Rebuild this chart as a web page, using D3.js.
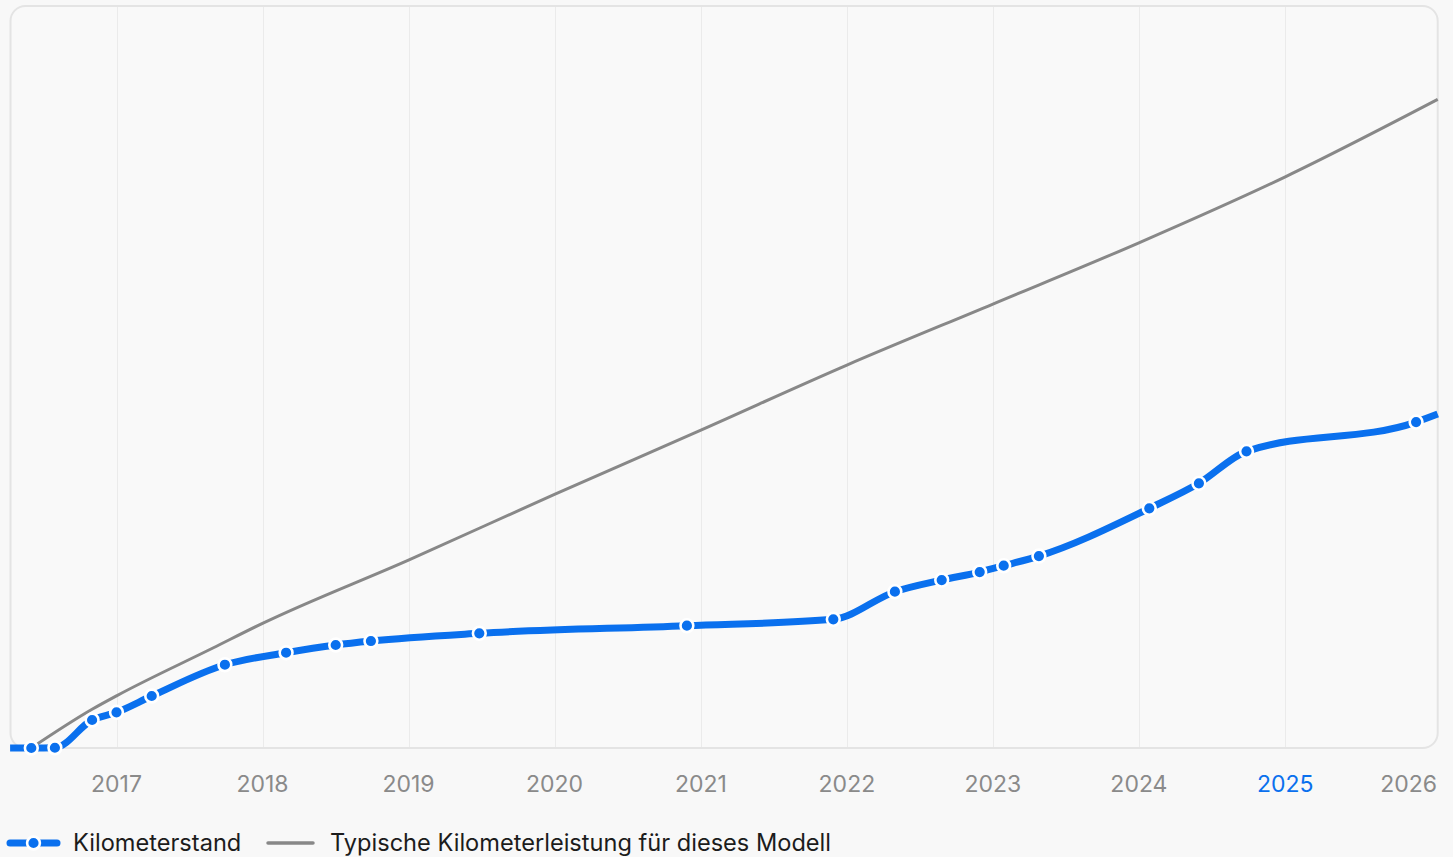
<!DOCTYPE html>
<html>
<head>
<meta charset="utf-8">
<script src="https://cdn.jsdelivr.net/npm/d3@7"></script>
<style>
  html, body { margin: 0; padding: 0; background: #f8f8f8; }
  svg { display: block; font-family: Inter, "Noto Sans", sans-serif; }
</style>
</head>
<body>
<svg id="mileageChart"></svg>
<script>
// Odometer readings (date, km)
const readingDates = ["2016-06-02", "2016-07-31", "2016-11-01", "2017-01-01", "2017-03-30",
    "2017-09-29", "2018-03-01", "2018-07-03", "2018-09-29", "2019-06-27", "2020-11-27",
    "2021-11-28", "2022-05-01", "2022-08-26", "2022-11-29", "2023-01-28", "2023-04-26",
    "2024-01-27", "2024-05-30", "2024-09-26", "2025-11-24"];
const readingKm = [0, 60, 6600, 8420, 12260, 19640, 22470, 24290, 25230, 27050, 28840,
    30350, 36860, 39610, 41500, 42990, 45270, 56520, 62420, 69960, 76870];

// Line continues to both edges of the time range
const rangeDates = ["2016-04-10", "2026-01-17"];
const rangeKm = [0, 78760];

// Typical mileage for this model
const typicalDates = ["2016-06-02", "2016-11-01", "2017-01-01", "2017-08-30", "2018-01-01",
    "2019-01-01", "2020-01-01", "2021-01-01", "2022-01-01", "2023-01-01", "2024-01-01",
    "2025-01-01", "2026-01-17"];
const typicalKm = [0, 9130, 12300, 23580, 29400, 44330, 59820, 74980, 90310, 104700,
    119150, 134710, 152960];

const yearTicks = [2017, 2018, 2019, 2020, 2021, 2022, 2023, 2024, 2025, 2026];
const highlightYear = 2025;

const seriesNames = ["Kilometerstand", "Typische Kilometerleistung für dieses Modell"];

const width = 1453;
const height = 857;
const box = { left: 10, right: 1437.7, top: 6, bottom: 748 };
const blue = '#0a70ee';
const grey = '#888888';

const svg = d3.select('svg#mileageChart')
    .attr('width', width)
    .attr('height', height);

svg.selectAll('*').remove();

const parse = d3.utcParse('%Y-%m-%d');

const x = d3.scaleUtc()
    .domain(rangeDates.map(parse))
    .range([10.1, box.right]);

const y = d3.scaleLinear()
    .domain([0, 175000])
    .range([box.bottom, box.top]);

// Plot frame
svg.append('rect')
    .attr('x', box.left + 0.5)
    .attr('y', box.top)
    .attr('width', box.right - box.left - 0.5)
    .attr('height', box.bottom - box.top)
    .attr('rx', 15)
    .style('fill', '#f9f9f9')
    .style('stroke', '#e4e4e4')
    .style('stroke-width', 2);

// Vertical year grid
const tickDates = yearTicks.map(yr => new Date(Date.UTC(yr, 0, 1)));
svg.append('g')
    .selectAll('line')
    .data(tickDates.filter(d => x(d) < box.right - 10))
    .join('line')
    .attr('x1', d => Math.round(x(d)) + 0.5)
    .attr('x2', d => Math.round(x(d)) + 0.5)
    .attr('y1', box.top + 1)
    .attr('y2', box.bottom - 1)
    .style('stroke', '#ebebeb')
    .style('stroke-width', 1);

// Year labels (last one kept inside the frame)
svg.append('g')
    .selectAll('text')
    .data(tickDates)
    .join('text')
    .attr('x', d => Math.min(x(d), box.right - 29))
    .attr('y', 792)
    .attr('text-anchor', 'middle')
    .style('font-size', '23px')
    .style('fill', d => d.getUTCFullYear() === highlightYear ? blue : '#8a8a8a')
    .text(d => d.getUTCFullYear());

// Typical mileage line
const typical = typicalDates.map((d, i) => ({ date: parse(d), km: typicalKm[i] }));
const line = d3.line()
    .x(d => x(d.date))
    .y(d => y(d.km))
    .curve(d3.curveMonotoneX);

svg.append('path')
    .datum(typical)
    .attr('d', line)
    .style('fill', 'none')
    .style('stroke', grey)
    .style('stroke-width', 3);

// Odometer line
const readings = readingDates.map((d, i) => ({ date: parse(d), km: readingKm[i] }));
const fullLine = [{ date: parse(rangeDates[0]), km: rangeKm[0] }]
    .concat(readings)
    .concat([{ date: parse(rangeDates[1]), km: rangeKm[1] }]);

svg.append('path')
    .datum(fullLine)
    .attr('d', line)
    .style('fill', 'none')
    .style('stroke', blue)
    .style('stroke-width', 7)
    .style('stroke-linejoin', 'round');

svg.append('g')
    .selectAll('circle')
    .data(readings)
    .join('circle')
    .attr('cx', d => x(d.date))
    .attr('cy', d => y(d.km))
    .attr('r', 6.4)
    .style('fill', blue)
    .style('stroke', '#ffffff')
    .style('stroke-width', 2.6);

// Legend
const legend = svg.append('g');
legend.append('line')
    .attr('x1', 10).attr('x2', 57)
    .attr('y1', 843).attr('y2', 843)
    .style('stroke', blue)
    .style('stroke-width', 7)
    .style('stroke-linecap', 'round');
legend.append('circle')
    .attr('cx', 33.5).attr('cy', 843)
    .attr('r', 6.4)
    .style('fill', blue)
    .style('stroke', '#ffffff')
    .style('stroke-width', 2.6);
legend.append('text')
    .attr('x', 73).attr('y', 851)
    .style('font-size', '23.6px')
    .style('fill', '#1c1c1c')
    .text(seriesNames[0]);

legend.append('line')
    .attr('x1', 268).attr('x2', 313)
    .attr('y1', 843).attr('y2', 843)
    .style('stroke', grey)
    .style('stroke-width', 3.5)
    .style('stroke-linecap', 'round');
legend.append('text')
    .attr('x', 330).attr('y', 851)
    .style('font-size', '23.6px')
    .style('fill', '#1c1c1c')
    .text(seriesNames[1]);
</script>
</body>
</html>
